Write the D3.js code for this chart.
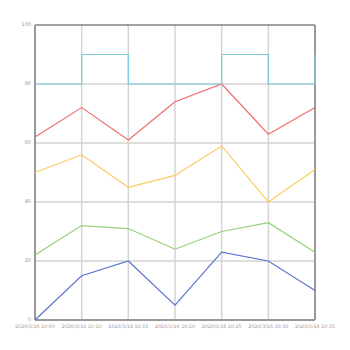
<!DOCTYPE html>
<html>
<head>
<meta charset="utf-8">
<script src="https://cdn.jsdelivr.net/npm/d3@7"></script>
<style>
  html, body { margin: 0; padding: 0; background: #fff; }
  svg { display: block; font-family: "DejaVu Sans", sans-serif; }
</style>
</head>
<body>
<div id="chart"></div>
<script>
// ---------- data ----------
const times = ["2020/3/16 10:00", "2020/3/16 10:10", "2020/3/16 10:15", "2020/3/16 10:20",
               "2020/3/16 10:25", "2020/3/16 10:30", "2020/3/16 10:35"];
const blueVals   = [0, 15, 20, 5, 23, 20, 10];
const greenVals  = [22, 32, 31, 24, 30, 33, 23];
const yellowVals = [50, 56, 45, 49, 59, 40, 51];
const redVals    = [62, 72, 61, 74, 80, 63, 72];
const cyanVals   = [80, 90, 80, 80, 90, 80, 90];
const yTicks = [0, 20, 40, 60, 80, 100];

const series = [
  { vals: blueVals,   color: "#5b74cf", step: false },
  { vals: greenVals,  color: "#95cf79", step: false },
  { vals: yellowVals, color: "#fbcb5e", step: false },
  { vals: redVals,    color: "#f06b6b", step: false },
  { vals: cyanVals,   color: "#7ccbe4", step: true }
];

// ---------- layout ----------
const W = 350, H = 350;
const pad = { top: 25, right: 35, bottom: 30, left: 35 };
const w = W - pad.left - pad.right;
const h = H - pad.top - pad.bottom;

const svg = d3.select("#chart").append("svg").attr("width", W).attr("height", H);
const g = svg.append("g").attr("transform", `translate(${pad.left},${pad.top})`);

const x = d3.scalePoint().domain(times).range([0, w]);
const y = d3.scaleLinear().domain([0, 100]).range([h, 0]);

// horizontal grid
g.append("g").selectAll("line").data(yTicks.filter(t => t > 0 && t < 100)).enter().append("line")
  .attr("x1", 0).attr("x2", w)
  .attr("y1", d => y(d)).attr("y2", d => y(d))
  .attr("stroke", "#bdbdbd").attr("stroke-width", 1);

// vertical grid
g.append("g").selectAll("line").data(times.slice(1, -1)).enter().append("line")
  .attr("x1", d => x(d)).attr("x2", d => x(d))
  .attr("y1", 0).attr("y2", h)
  .attr("stroke", "#d4d4d4").attr("stroke-width", 1.5);

// frame
g.append("line").attr("x1", 0).attr("x2", w).attr("y1", 0).attr("y2", 0)
  .attr("stroke", "#444").attr("stroke-width", 1);
g.append("line").attr("x1", w).attr("x2", w).attr("y1", 0).attr("y2", h)
  .attr("stroke", "#999").attr("stroke-width", 2);
g.append("line").attr("x1", 0).attr("x2", 0).attr("y1", 0).attr("y2", h)
  .attr("stroke", "#999").attr("stroke-width", 2);
g.append("line").attr("x1", 0).attr("x2", w).attr("y1", h).attr("y2", h)
  .attr("stroke", "#999").attr("stroke-width", 2);

// lines
series.forEach(s => {
  const line = d3.line()
    .x((d, i) => x(times[i]))
    .y(d => y(d))
    .curve(s.step ? d3.curveStepAfter : d3.curveLinear);
  g.append("path")
    .attr("d", line(s.vals))
    .attr("fill", "none")
    .attr("stroke", s.color)
    .attr("stroke-width", 1.2);
});

// y labels
g.append("g").selectAll("text").data(yTicks).enter().append("text")
  .attr("x", -4).attr("y", d => y(d))
  .attr("text-anchor", "end").attr("dominant-baseline", "middle")
  .attr("fill", "#999").style("font-size", "5px")
  .text(d => d);

// x labels
g.append("g").selectAll("text").data(times).enter().append("text")
  .attr("x", d => x(d)).attr("y", h + 7)
  .attr("text-anchor", "middle").attr("dominant-baseline", "middle")
  .attr("fill", "#999").style("font-size", "4.8px")
  .text(d => d);
</script>
</body>
</html>
